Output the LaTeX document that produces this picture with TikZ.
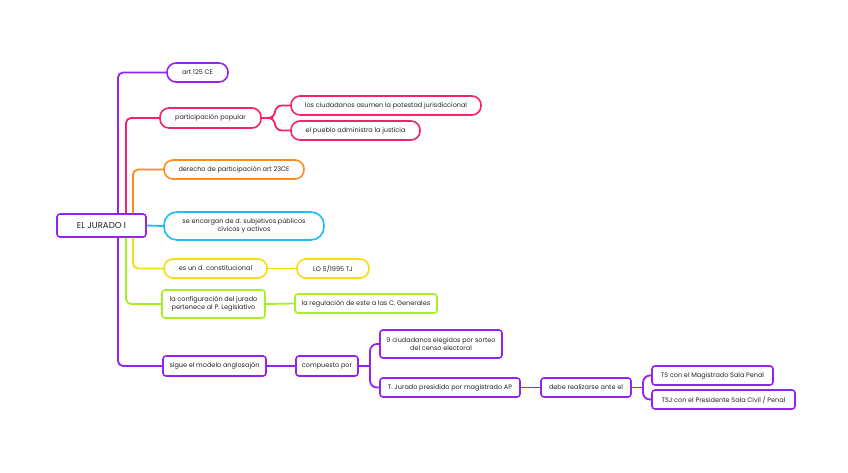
\documentclass[tikz,border=0pt]{standalone}
\usepackage{fontspec}
\setmainfont{Poppins}
\usetikzlibrary{calc}
\definecolor{cpur}{HTML}{9422F2}
\definecolor{cpink}{HTML}{F2226E}
\definecolor{corange}{HTML}{FF8A1F}
\definecolor{ccyan}{HTML}{22BCF5}
\definecolor{cyel}{HTML}{F5DC14}
\definecolor{clime}{HTML}{A8EE24}
\definecolor{ctext}{HTML}{222222}
\tikzset{
  box/.style={draw, line width=1.6pt, fill=white, text=ctext, font=\fontsize{6.5}{7.6}\selectfont, align=center, inner sep=0pt},
  pill/.style={box, rounded corners=9pt},
  sq/.style={box, rounded corners=3pt},
  conn/.style={line width=1.8pt, rounded corners=5pt},
  fork/.style={line width=1.8pt, rounded corners=7pt},
}
\begin{document}
\begin{tikzpicture}[x=1pt,y=-1pt]
\useasboundingbox[fill=white] (0,0) rectangle (848,472);
% nodes
\node[sq, draw=cpur, minimum width=89, minimum height=23, font=\fontsize{8.6}{9}\selectfont] (root) at (101.5,225.5) {EL JURADO I};
\node[pill, draw=cpur, minimum width=61, minimum height=19] (art) at (197.5,72.5) {art 125 CE};
\node[pill, draw=cpink, minimum width=101, minimum height=20] (pp) at (210.5,118) {participación popular};
\node[pill, draw=cpink, minimum width=190, minimum height=19] (lc) at (386,105.5) {los ciudadanos asumen la potestad jurisdiccional};
\node[pill, draw=cpink, minimum width=129, minimum height=19] (pu) at (355.5,130.5) {el pueblo administra la justicia};
\node[pill, draw=corange, minimum width=140, minimum height=19] (de) at (234,169.5) {derecho de participación art 23CE};
\node[box, draw=ccyan, rounded corners=13pt, minimum width=160, minimum height=28] (en) at (244,226) {se encargan de d. subjetivos públicos\\cívicos y activos};
\node[pill, draw=cyel, minimum width=103, minimum height=19] (es) at (215.5,268.5) {es un d. constitucional};
\node[pill, draw=cyel, minimum width=72, minimum height=19] (lo) at (333,268.5) {LO 5/1995 TJ};
\node[sq, draw=clime, minimum width=103, minimum height=28] (cf) at (213.5,304) {la configuración del jurado\\pertenece al P. Legislativo};
\node[sq, draw=clime, minimum width=142, minimum height=19] (rg) at (366,303.5) {la regulación de este a las C. Generales};
\node[sq, draw=cpur, minimum width=103, minimum height=20] (sg) at (214.5,366) {sigue el modelo anglosajón};
\node[sq, draw=cpur, minimum width=62, minimum height=20] (cp) at (327,366) {compuesto por};
\node[sq, draw=cpur, minimum width=122, minimum height=28] (nv) at (441,344) {9 ciudadanos elegidos por sorteo\\del censo electoral};
\node[sq, draw=cpur, minimum width=140, minimum height=19] (tj) at (450,387.5) {T. Jurado presidido por magistrado AP};
\node[sq, draw=cpur, minimum width=90, minimum height=19] (db) at (586,387.5) {debe realizarse ante el};
\node[sq, draw=cpur, minimum width=121, minimum height=19] (ts) at (712.5,375.5) {TS con el Magistrado Sala Penal};
\node[sq, draw=cpur, minimum width=143, minimum height=19] (tsj) at (723.5,399.5) {TSJ con el Presidente Sala Civil / Penal};
% bus coordinates
\coordinate (b1) at (118,0);
\coordinate (b2) at (126,0);
\coordinate (b3) at (133,0);
\coordinate (f1) at (273,0);
\coordinate (f2) at (370,0);
\coordinate (f3) at (643,0);
% connectors
\draw[conn, cpur] (root.north -| b1) |- (art.west);
\draw[conn, cpink] (root.north -| b2) |- (pp.west);
\draw[conn, corange] (root.north -| b3) |- (de.west);
\draw[conn, ccyan] (root.east) -- (en.west);
\draw[conn, cyel] (root.south -| b3) |- (es.west);
\draw[conn, clime] (root.south -| b2) |- (cf.west);
\draw[conn, cpur] (root.south -| b1) |- (sg.west);
\draw[conn, cyel] (es.east) -- (lo.west);
\draw[conn, clime] (cf.east) -- (rg.west);
\draw[conn, cpur] (sg.east) -- (cp.west);
\draw[conn, cpur] (tj.east) -- (db.west);
% forks
\draw[conn, cpink] (pp.east) -- (pp.east -| f1);
\draw[fork, cpink] (pp.east -| f1) -- ++(2,0) |- (lc.west);
\draw[fork, cpink] (pp.east -| f1) -- ++(2,0) |- (pu.west);
\draw[conn, cpur] (cp.east) -- (cp.east -| f2);
\draw[fork, cpur] (cp.east -| f2) |- (nv.west);
\draw[fork, cpur] (cp.east -| f2) |- (tj.west);
\draw[conn, cpur] (db.east) -- (db.east -| f3);
\draw[fork, cpur] (db.east -| f3) |- (ts.west);
\draw[fork, cpur] (db.east -| f3) |- (tsj.west);
\end{tikzpicture}
\end{document}
